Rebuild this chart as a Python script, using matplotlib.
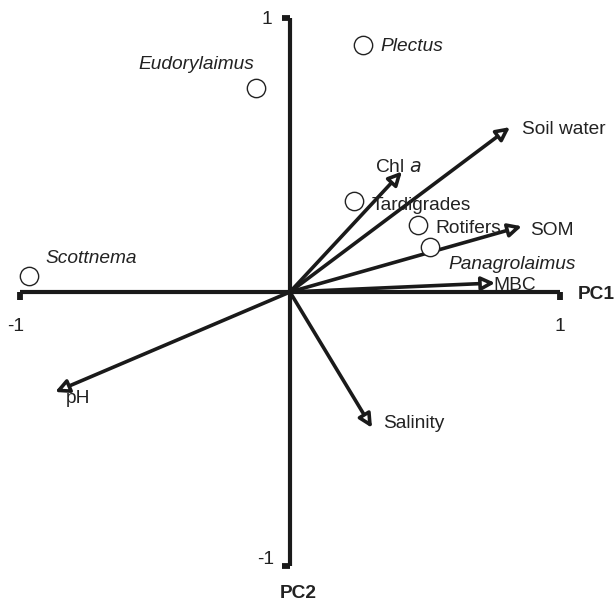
import matplotlib
matplotlib.use("Agg")
from matplotlib import pyplot as plt

plt.rcParams['font.family'] = ['Liberation Sans', 'DejaVu Sans']

# species scores (circles)
species = ['Plectus', 'Eudorylaimus', 'Scottnema', 'Tardigrades', 'Rotifers', 'Panagrolaimus']
sp_x = [0.27, -0.126, -0.967, 0.237, 0.474, 0.519]
sp_y = [0.90, 0.745, 0.058, 0.332, 0.245, 0.164]
sp_italic = [True, True, True, False, False, True]

# environmental vectors (arrows)
env = ['Soil water', 'Chl $\\it{a}$', 'SOM', 'MBC', 'pH', 'Salinity']
env_x = [0.815, 0.415, 0.859, 0.76, -0.87, 0.304]
env_y = [0.602, 0.44, 0.24, 0.033, -0.365, -0.496]

# label offsets in data units
sp_off = [(0.065, -0.005), (-0.437, 0.085), (0.06, 0.063), (0.065, -0.015), (0.065, -0.015), (0.068, -0.065)]
env_off = [(0.045, -0.01), (-0.1, 0.015), (0.03, -0.015), (-0.006, -0.008), (0.04, -0.025), (0.04, 0.015)]

fig = plt.figure(figsize=(6.15, 6.04), dpi=100)
ax = fig.add_axes([0, 0, 1, 1])
ax.set_xlim(-1.074, 1.204)
ax.set_ylim(-1.139, 1.066)
ax.axis('off')

lw = 3.0
ax.plot([-1, 1], [0, 0], color='#1a1a1a', lw=lw, solid_capstyle='butt')
ax.plot([0, 0], [-1, 1], color='#1a1a1a', lw=lw, solid_capstyle='butt')
# end ticks
ax.plot([-1, -1], [0, -0.03], color='#1a1a1a', lw=lw * 1.4, solid_capstyle='butt')
ax.plot([1, 1], [0, -0.03], color='#1a1a1a', lw=lw * 1.4, solid_capstyle='butt')
ax.plot([0, -0.03], [1, 1], color='#1a1a1a', lw=lw * 1.4, solid_capstyle='butt')
ax.plot([0, -0.03], [-1, -1], color='#1a1a1a', lw=lw * 1.4, solid_capstyle='butt')

fs = 13.8
ax.text(-1.015, -0.125, '-1', fontsize=fs, ha='center', va='center', color='#222222')
ax.text(1.0, -0.125, '1', fontsize=fs, ha='center', va='center', color='#222222')
ax.text(-0.085, 0.995, '1', fontsize=fs, ha='center', va='center', color='#222222')
ax.text(-0.09, -0.975, '-1', fontsize=fs, ha='center', va='center', color='#222222')
ax.text(1.065, -0.008, 'PC1', fontsize=fs, fontweight='bold', ha='left', va='center', color='#222222')
ax.text(0.03, -1.1, 'PC2', fontsize=fs, fontweight='bold', ha='center', va='center', color='#222222')

for name, x, y, (dx, dy) in zip(env, env_x, env_y, env_off):
    ax.annotate('', xy=(x, y), xytext=(0, 0),
                arrowprops=dict(arrowstyle='-|>,head_length=0.8,head_width=0.4',
                                facecolor='white', edgecolor='#1a1a1a', lw=2.6,
                                shrinkA=0, shrinkB=0))
    ax.text(x + dx, y + dy, name, fontsize=fs, ha='left', va='center', color='#222222')

ax.plot(sp_x, sp_y, 'o', ms=13.2, mfc='white', mec='#222222', mew=1.0, zorder=3)
for name, x, y, it, (dx, dy) in zip(species, sp_x, sp_y, sp_italic, sp_off):
    ax.text(x + dx, y + dy, name, fontsize=fs, ha='left', va='center', color='#222222',
            style='italic' if it else 'normal')

fig.savefig('out.png', dpi=100)
